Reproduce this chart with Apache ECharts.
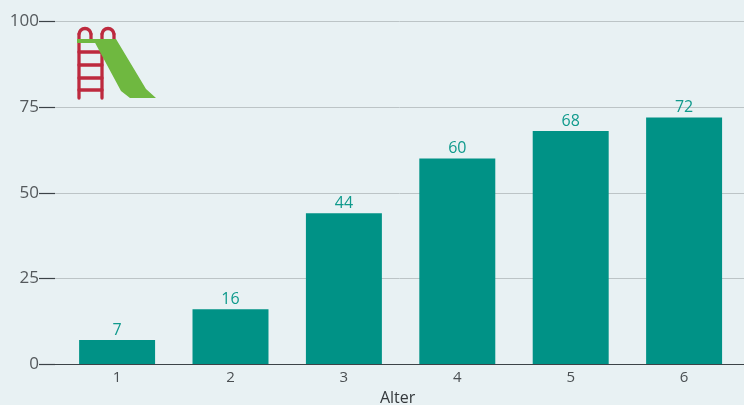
<!DOCTYPE html>
<html><head><meta charset="utf-8">
<style>html,body{margin:0;padding:0;background:#e8f1f3}#c{width:744px;height:405px}</style>
<script src="https://cdn.jsdelivr.net/npm/echarts@6/dist/echarts.min.js"></script>
</head><body><div id="c"></div>
<script>
const categories=['1','2','3','4','5','6'];
const values=[7,16,44,60,68,72];
const yTicks=[0,25,50,75,100];
const xTitle='Alter';
const font='"Open Sans"';
const chart=echarts.init(document.getElementById('c'),null,{renderer:'canvas'});
const red='#bd2a3e',green='#6fb840';
const seg=(x1,y1,x2,y2)=>({type:'line',shape:{x1,y1,x2,y2},style:{stroke:red,lineWidth:3.3,lineCap:'round'}});
const arch=(cx)=>({type:'arc',shape:{cx:cx,cy:34.5,r:6,startAngle:Math.PI,endAngle:0,clockwise:true},style:{stroke:red,lineWidth:3.3,fill:'none'}});
chart.setOption({
  backgroundColor:'#e8f1f3',animation:false,
  grid:[
    {left:55,right:0,top:21.5,height:342.5,outerBoundsMode:'none'},
    {left:60.4,width:680.4,top:21.5,height:342.5,outerBoundsMode:'none'}
  ],
  xAxis:[
    {gridIndex:0,type:'value',min:0,max:1,show:true,axisLine:{show:true,lineStyle:{color:'#3c4347',width:1.2}},axisTick:{show:false},axisLabel:{show:false},splitLine:{show:false}},
    {gridIndex:1,type:'category',data:categories,axisLine:{show:false},axisTick:{show:false},
     axisLabel:{color:'#4a4f52',fontFamily:font,fontSize:15,margin:6},
     name:xTitle,nameLocation:'middle',nameGap:26,nameTextStyle:{color:'#33383b',fontFamily:font,fontSize:16,padding:[0,6,0,0]}}
  ],
  yAxis:[
    {gridIndex:0,type:'value',min:0,max:100,interval:25,
     axisLine:{show:false},
     axisTick:{show:true,length:16,lineStyle:{color:'#3c4347',width:1.2}},
     axisLabel:{color:'#54595c',fontFamily:font,fontSize:17,margin:16,customValues:yTicks},
     splitLine:{show:true,lineStyle:{color:'#bcc4c6',width:1}}},
    {gridIndex:1,type:'value',min:0,max:100,show:false,splitLine:{show:false}}
  ],
  series:[{type:'bar',xAxisIndex:1,yAxisIndex:1,data:values,barCategoryGap:'33%',
    itemStyle:{color:'#009286'},
    label:{show:true,position:'top',distance:2,color:'#0f9a8c',fontFamily:font,fontSize:16,fontWeight:500}}],
  graphic:[
    seg(79,34,79,98),seg(102,34,102,98),arch(85),arch(108),seg(91,34,91,39),seg(114,34,114,39),
    seg(79,52,102,52),seg(79,65,102,65),seg(79,78,102,78),seg(79,90,102,90),
    {type:'polygon',shape:{points:[[93,39],[116,39],[146,89],[156,98],[130,98],[121,91]]},style:{fill:green}},
    {type:'rect',shape:{x:77,y:39,width:39,height:4},style:{fill:green}}
  ]
});
</script></body></html>
